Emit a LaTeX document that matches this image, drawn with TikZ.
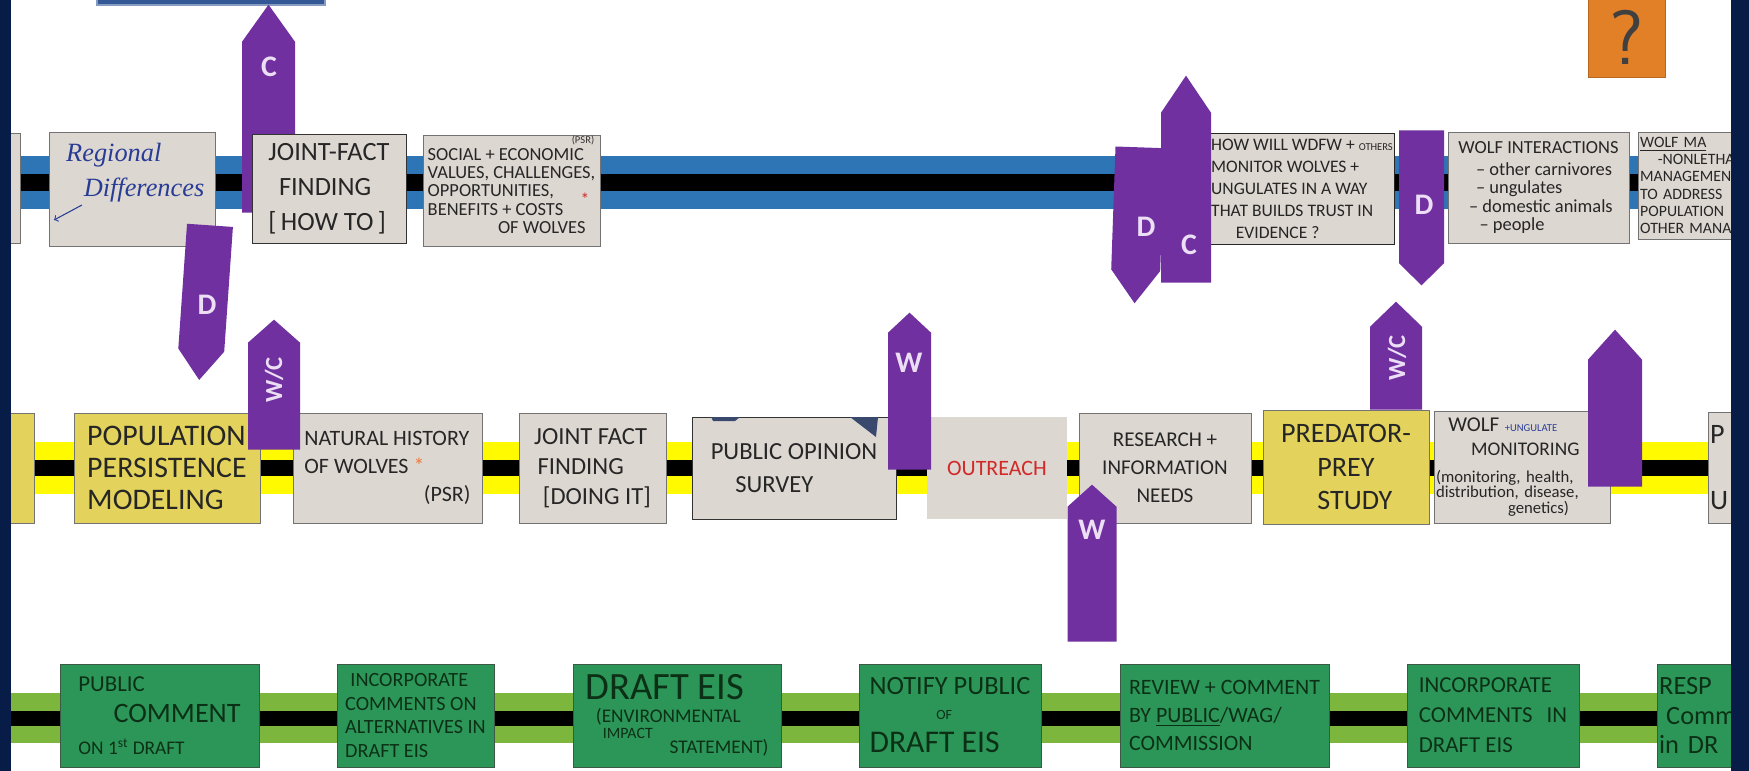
\documentclass[tikz,border=0pt]{standalone}
\usepackage{fontspec}
\setmainfont{Carlito}
\newfontfamily\cursive{Liberation Serif}
\usepackage{tikz}
\usetikzlibrary{shapes,arrows,positioning}

\newcommand{\pu}{0.02cm}
\newcommand{\hand}[2]{\fontsize{#1}{#2}\selectfont}

\definecolor{sidenavy}{RGB}{8,28,72}
\definecolor{tabblue}{RGB}{52,88,150}
\definecolor{bandblue}{RGB}{46,117,182}
\definecolor{bandyellow}{RGB}{255,250,0}
\definecolor{bandlime}{RGB}{125,182,60}
\definecolor{notegray}{RGB}{221,215,209}
\definecolor{noteyellow}{RGB}{227,211,92}
\definecolor{notegreen}{RGB}{44,150,88}
\definecolor{inkgreen}{RGB}{12,48,22}
\definecolor{inkblue}{RGB}{40,60,150}
\definecolor{inkred}{RGB}{210,40,40}
\definecolor{starorange}{RGB}{240,120,60}
\definecolor{tagpurple}{RGB}{112,48,160}
\definecolor{taglight}{RGB}{235,222,245}
\definecolor{qorange}{RGB}{226,128,40}

\begin{document}
\begin{tikzpicture}[x=\pu, y=-\pu,
    graynote/.style={rectangle, draw=black!55, line width=0.5pt, fill=notegray, inner sep=1pt, text=black!85, align=left},
    yellownote/.style={graynote, fill=noteyellow},
    greennote/.style={rectangle, draw=inkgreen!80, line width=0.5pt, fill=notegreen, inner sep=1pt, text=inkgreen, align=left},
    tag/.style={single arrow, single arrow head extend=0pt, fill=tagpurple, inner sep=0pt, anchor=tail},
    taglbl/.style={text=taglight, font=\bfseries\hand{17}{17}},
    topband/.style={draw=bandblue, line width=53*\pu, postaction={draw=black, line width=17*\pu}},
    midband/.style={draw=bandyellow, line width=52*\pu, postaction={draw=black, line width=16*\pu}},
    lowband/.style={draw=bandlime, line width=50*\pu, postaction={draw=black, line width=15*\pu}}
]
    \useasboundingbox (0,0) rectangle (1749,771);
    \clip (0,0) rectangle (1749,771);

    % Bands
    \coordinate (topL) at (0,182.5);
    \coordinate (topR) at (1749,182.5);
    \coordinate (midL) at (0,468);
    \coordinate (midR) at (1749,468);
    \coordinate (lowL) at (0,718);
    \coordinate (lowR) at (1749,718);
    \draw[topband] (topL) -- (topR);
    \draw[midband] (midL) -- (midR);
    \draw[lowband] (lowL) -- (lowR);

    % Tab and question box
    \node[rectangle, fill=tabblue, draw=tabblue!60!white, line width=1pt, minimum width=228*\pu, minimum height=30*\pu] (topTab) at (211,-10) {};
    \node[rectangle, fill=qorange, draw=qorange!80!black, minimum width=77*\pu, minimum height=100*\pu] (question) at (1626.5,27) {};
    \node[text=black!75, font=\sffamily\hand{44}{44}] (questionMark) at (1627,37) {?};

    % C tag behind joint fact finding
    \node[tag, rotate=90, minimum height=208*\pu, minimum width=53*\pu, single arrow tip angle=71] (cJoint) at (268.5,213) {};

    % Top row
    \node[graynote, minimum width=90*\pu, minimum height=110*\pu] (topStub) at (-25,188) {};
    \node[graynote, minimum width=166*\pu, minimum height=114*\pu] (regional) at (132,189) {};
    \node[anchor=north west, align=left, text=inkblue, font=\cursive\itshape\hand{15}{20}] (regionalTxt) at (60,137) {Regional\\\hspace*{10pt}Differences};
    \coordinate (regTail) at (82,205);
    \coordinate (regHead) at (54,220);
    \draw[->, inkblue, line width=0.6pt] (regTail) -- (regHead);

    \node[graynote, draw=black!80, minimum width=154*\pu, minimum height=109*\pu, font=\hand{15}{20}] (jffHow) at (329,188.5) {JOINT-FACT\\\hspace*{6pt}FINDING\\{[}\,HOW TO\,{]}};

    \node[graynote, minimum width=177*\pu, minimum height=111*\pu, font=\hand{10.5}{10.3}] (social) at (511.5,191) {SOCIAL + ECONOMIC\\VALUES, CHALLENGES,\\OPPORTUNITIES,\\BENEFITS + COSTS\\\hspace*{40pt}OF WOLVES};
    \node[font=\hand{6}{6}, text=black!80] (socialPsr) at (583,140) {(PSR)};
    \node[text=inkred, font=\hand{10}{10}] (socialStar) at (585,199) {*};

    \node[graynote, draw=black!85, minimum width=174*\pu, minimum height=111*\pu, font=\hand{10}{12.5}] (trust) at (1302,188.5) {HOW WILL WDFW + {\hand{6}{6}OTHERS}\\MONITOR WOLVES +\\UNGULATES IN A WAY\\THAT BUILDS TRUST IN\\\hspace*{14pt}EVIDENCE ?};

    \node[graynote, minimum width=181*\pu, minimum height=111*\pu, font=\hand{10.5}{10.5}] (interact) at (1538.5,187.5) {WOLF INTERACTIONS\\[2pt]\hspace*{10pt}-- other carnivores\\\hspace*{10pt}-- ungulates\\\hspace*{6pt}-- domestic animals\\\hspace*{12pt}-- people};

    \node[graynote, anchor=west, text width=130*\pu, minimum height=107*\pu, font=\hand{9}{9.8}] (wolfMgmt) at (1638,185.5) {\underline{WOLF MA}\\\hspace*{10pt}-NONLETHA\\MANAGEMEN\\TO ADDRESS\\POPULATION\\OTHER MANA};

    % Middle row
    \node[yellownote, minimum width=100*\pu, minimum height=110*\pu] (midStub) at (-16,468) {};
    \node[yellownote, minimum width=186*\pu, minimum height=110*\pu, font=\hand{17}{18}] (popModel) at (167,468) {POPULATION\\PERSISTENCE\\MODELING};
    \node[graynote, minimum width=189*\pu, minimum height=110*\pu, font=\hand{12.5}{16}] (natHist) at (387.5,468) {NATURAL HISTORY\\OF WOLVES \textcolor{starorange}{*}\\\hspace*{68pt}(PSR)};
    \node[graynote, minimum width=147*\pu, minimum height=110*\pu, font=\hand{14}{17}] (jffDoing) at (592.5,468) {JOINT FACT\\\hspace*{2pt}FINDING\\\hspace*{5pt}{[}DOING IT{]}};
    \node[graynote, draw=black!80, minimum width=204*\pu, minimum height=102*\pu, font=\hand{14}{19}] (survey) at (794,468) {PUBLIC OPINION\\\hspace*{14pt}SURVEY};
    \fill[sidenavy!80] (711,417) -- (740,417) -- (735,421) -- (713,421) -- cycle;
    \fill[sidenavy!80] (850,417) -- (878,417) -- (876,437) -- cycle;
    \node[graynote, draw=none, minimum width=140*\pu, minimum height=102*\pu, text=inkred, font=\hand{12.5}{12.5}] (outreach) at (997,468) {OUTREACH};
    \node[graynote, minimum width=172*\pu, minimum height=110*\pu, font=\hand{12}{16}, align=center] (research) at (1165,468) {RESEARCH +\\INFORMATION\\NEEDS};
    \node[yellownote, minimum width=166*\pu, minimum height=114*\pu, font=\hand{16}{19}, align=center] (predPrey) at (1346,467) {PREDATOR-\\PREY\\\hspace*{10pt}STUDY};
    \node[graynote, text width=173*\pu, minimum height=112*\pu, font=\hand{9.5}{9}] (wolfMon) at (1522.5,467) {\hspace*{7pt}\hand{12}{9}WOLF {\color{inkblue}\hand{6}{9}+UNGULATE}\\[5pt]\hspace*{20pt}\hand{11}{9}MONITORING\\[6pt]\hand{9.5}{9}(monitoring, health,\\\hand{9.5}{9}distribution, disease,\\\hspace*{41pt}\hand{9.5}{9}genetics)};
    \node[graynote, anchor=west, text width=60*\pu, minimum height=111*\pu, font=\hand{16}{38}] (pStub) at (1708,467.5) {P\\U};

    % Bottom row
    \node[greennote, minimum width=199*\pu, minimum height=103*\pu, font=\hand{13}{18}] (pubComment) at (159.5,715.5) {\hand{13}{18}PUBLIC\\\hspace*{20pt}\hand{16}{18}COMMENT\\\hand{11}{18}ON 1\textsuperscript{st} DRAFT};
    \node[greennote, minimum width=157*\pu, minimum height=103*\pu, font=\hand{11.5}{13.5}] (incorpAlt) at (415.5,715.5) {\hspace*{3pt}INCORPORATE\\COMMENTS ON\\ALTERNATIVES IN\\DRAFT EIS};
    \node[greennote, minimum width=208*\pu, minimum height=103*\pu] (draftEis) at (677,715.5) {\hand{22}{22}DRAFT EIS\\[1pt]\hspace*{6pt}\hand{11}{11}(ENVIRONMENTAL\\[-3pt]\hspace*{10pt}\hand{9}{9}IMPACT\\[-3pt]\hspace*{48pt}\hand{11}{11}STATEMENT)};
    \node[greennote, minimum width=182*\pu, minimum height=103*\pu, font=\hand{15}{14}] (notify) at (950,715.5) {\hand{15}{14}NOTIFY PUBLIC\\\hspace*{38pt}\hand{8}{14}OF\\[5pt]\hand{18}{14}DRAFT EIS};
    \node[greennote, minimum width=209*\pu, minimum height=103*\pu, font=\hand{12.5}{16}] (review) at (1224.5,715.5) {REVIEW + COMMENT\\BY \underline{PUBLIC}/WAG/\\COMMISSION};
    \node[greennote, minimum width=172*\pu, minimum height=103*\pu, font=\hand{13}{17}] (incorpDraft) at (1493,715.5) {INCORPORATE\\COMMENTS\hspace{8pt}IN\\DRAFT EIS};
    \node[greennote, anchor=west, text width=80*\pu, minimum height=103*\pu, font=\hand{15}{17}] (respond) at (1657,715.5) {RESP\\\hspace*{4pt}Comm\\in DR};

    % Tags
    \node[taglbl] (cJointLbl) at (269,67) {C};
    \node[tag, rotate=-94, minimum height=155*\pu, minimum width=46*\pu, single arrow tip angle=75] (dPop) at (210,225) {};
    \node[taglbl] (dPopLbl) at (207,305) {D};
    \node[tag, rotate=90, minimum height=130*\pu, minimum width=52*\pu, single arrow tip angle=97] (wcPop) at (274,450) {};
    \node[taglbl, rotate=90, font=\bfseries\hand{14}{14}] (wcPopLbl) at (274,380) {W/C};
    \node[tag, rotate=90, minimum height=157*\pu, minimum width=43*\pu, single arrow tip angle=94] (wSurvey) at (909.5,470) {};
    \node[taglbl] (wSurveyLbl) at (909,363) {W};
    \node[tag, rotate=-92, minimum height=156*\pu, minimum width=49*\pu, single arrow tip angle=73] (dTrust) at (1140,147) {};
    \node[taglbl] (dTrustLbl) at (1146,227) {D};
    \node[tag, rotate=90, minimum height=207*\pu, minimum width=50*\pu, single arrow tip angle=68] (cTrust) at (1186,283) {};
    \node[taglbl] (cTrustLbl) at (1189,245) {C};
    \node[tag, rotate=90, minimum height=157*\pu, minimum width=49*\pu, single arrow tip angle=96] (wResearch) at (1092,642) {};
    \node[taglbl] (wResearchLbl) at (1092,530) {W};
    \node[tag, rotate=90, minimum height=108*\pu, minimum width=52*\pu, single arrow tip angle=92] (wcPred) at (1396,410) {};
    \node[taglbl, rotate=90, font=\bfseries\hand{14}{14}] (wcPredLbl) at (1397,358) {W/C};
    \node[tag, rotate=-90, minimum height=155*\pu, minimum width=45*\pu, single arrow tip angle=91] (dInteract) at (1421.5,130) {};
    \node[taglbl] (dInteractLbl) at (1424,205) {D};
    \node[tag, rotate=90, minimum height=157*\pu, minimum width=54*\pu, single arrow tip angle=84] (plainMon) at (1615,487) {};

    % Side bars
    \fill[sidenavy] (0,0) rectangle (11,771);
    \fill[sidenavy] (1731,0) rectangle (1749,771);
\end{tikzpicture}
\end{document}
